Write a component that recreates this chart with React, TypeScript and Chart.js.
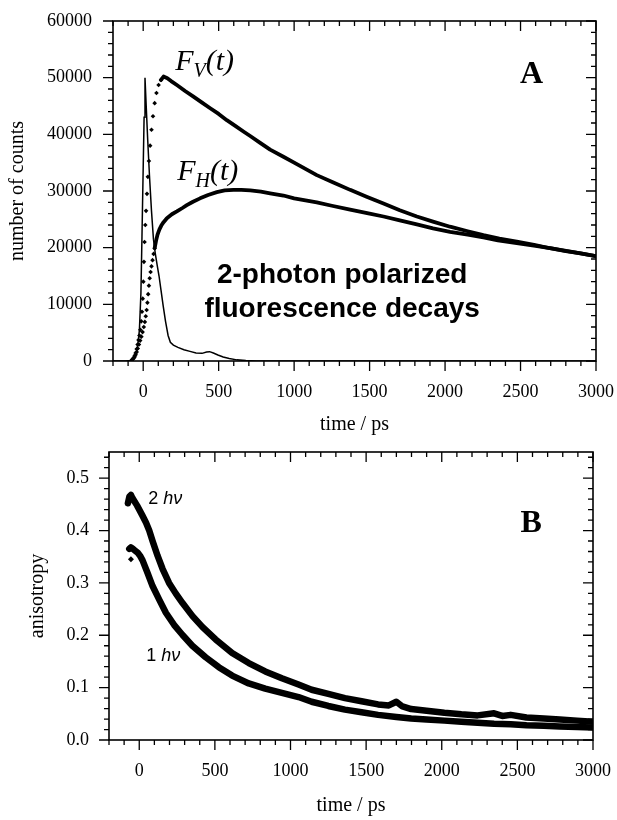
import React, { useEffect, useRef } from "react";
import { Chart, registerables } from "chart.js";

Chart.register(...registerables);

// ---------------- Panel A: polarized fluorescence decays ----------------
const timeTicks = [0, 500, 1000, 1500, 2000, 2500, 3000];
const countTicks = [0, 10000, 20000, 30000, 40000, 50000, 60000];

// instrument response (thin solid line)
const irTime = [-200, -120, -80, -65, -55, -45, -35, -25, -15, -8, 0, 6, 12, 20, 30, 42, 55, 68, 80, 92, 105, 118, 132, 148, 165, 180, 200, 230, 270, 310, 350, 390, 420, 440, 465, 495, 530, 570, 620, 680, 750, 1000, 3000];
const irCounts = [0, 0, 100, 300, 700, 1500, 3000, 5500, 12000, 22000, 34000, 43000, 50000, 45000, 39000, 32500, 26500, 21500, 19000, 17000, 15000, 12500, 9800, 7000, 4500, 3300, 2800, 2400, 2000, 1700, 1400, 1350, 1600, 1650, 1400, 1050, 700, 450, 200, 80, 0, 0, 0];

// F_V(t): rising edge (separate dots) and decay (dense band)
const fvRiseTime = [-75, -65, -57, -50, -43, -37, -31, -25, -19, -13, -8, -3, 1, 5, 9, 14, 19, 25, 31, 38, 46, 55, 65, 76, 88, 102, 118];
const fvRiseCounts = [200, 500, 900, 1400, 2100, 2900, 3700, 4500, 5500, 7000, 8700, 11000, 14000, 17500, 21000, 24000, 26500, 29500, 32500, 35300, 38000, 40800, 43200, 45500, 47300, 48700, 49600];
const fvTime = [118, 135, 160, 185, 223, 280, 333, 390, 444, 500, 554, 610, 664, 709, 775, 841, 929, 1000, 1075, 1150, 1260, 1371, 1480, 1592, 1700, 1813, 1920, 2033, 2150, 2254, 2360, 2475, 2590, 2695, 2850, 3000];
const fvCounts = [49600, 50200, 49900, 49400, 48700, 47600, 46650, 45600, 44600, 43600, 42500, 41500, 40500, 39700, 38500, 37300, 36050, 35000, 33900, 32800, 31500, 30200, 29000, 27800, 26600, 25500, 24600, 23700, 22900, 22200, 21600, 21050, 20500, 19900, 19200, 18500];

// F_H(t)
const fhRiseTime = [-75, -65, -57, -50, -43, -36, -28, -20, -12, -4, 4, 11, 17, 23, 28, 33, 38, 43, 49, 55, 62, 69, 76];
const fhRiseCounts = [150, 400, 700, 1100, 1600, 2200, 2900, 3600, 4300, 5100, 6000, 6900, 7900, 9000, 10300, 11800, 13300, 14600, 15700, 16700, 17800, 18900, 19900];
const fhTime = [76, 85, 95, 107, 120, 135, 157, 190, 223, 260, 289, 330, 377, 430, 488, 540, 598, 650, 709, 780, 841, 929, 1000, 1150, 1250, 1371, 1500, 1592, 1700, 1813, 1920, 2033, 2150, 2254, 2350, 2475, 2600, 2695, 2800, 2900, 3000];
const fhCounts = [19900, 21200, 22300, 23200, 23900, 24500, 25200, 25900, 26400, 27000, 27500, 28100, 28700, 29300, 29800, 30100, 30200, 30200, 30100, 29900, 29600, 29200, 28700, 28000, 27400, 26700, 26000, 25500, 24800, 24100, 23400, 22800, 22300, 21800, 21300, 20800, 20300, 19900, 19400, 19000, 18500];

// ---------------- Panel B: anisotropy ----------------
const anisoTicks = [0, 0.1, 0.2, 0.3, 0.4, 0.5];

const r2Time = [-75, -65, -55, -45, -30, -15, 0, 22, 45, 66, 88, 121, 154, 197, 241, 285, 351, 417, 505, 614, 724, 833, 943, 1053, 1140, 1250, 1360, 1470, 1579, 1650, 1700, 1740, 1798, 1900, 2017, 2130, 2237, 2346, 2400, 2456, 2560, 2675, 2780, 2895, 3000];
const r2Values = [0.452, 0.465, 0.468, 0.462, 0.455, 0.448, 0.44, 0.428, 0.415, 0.4, 0.38, 0.352, 0.327, 0.3, 0.28, 0.262, 0.237, 0.216, 0.192, 0.166, 0.147, 0.131, 0.118, 0.106, 0.096, 0.088, 0.08, 0.074, 0.068, 0.066, 0.073, 0.064, 0.059, 0.056, 0.052, 0.049, 0.047, 0.051, 0.046, 0.048, 0.043, 0.041, 0.039, 0.037, 0.035];

const r1Time = [-66, -55, -45, -30, -11, 5, 22, 55, 88, 132, 176, 230, 285, 351, 439, 526, 614, 724, 833, 943, 1053, 1140, 1250, 1360, 1470, 1579, 1700, 1798, 1900, 2017, 2130, 2237, 2346, 2456, 2560, 2675, 2780, 2895, 3000];
const r1Values = [0.365, 0.368, 0.366, 0.362, 0.358, 0.352, 0.343, 0.319, 0.294, 0.268, 0.243, 0.22, 0.201, 0.18, 0.158, 0.139, 0.123, 0.108, 0.098, 0.09, 0.082, 0.073, 0.065, 0.058, 0.053, 0.048, 0.044, 0.041, 0.039, 0.037, 0.035, 0.033, 0.031, 0.03, 0.028, 0.027, 0.026, 0.025, 0.024];
const r1StrayTime = [-55];
const r1StrayValues = [0.345];

// ---------------- helpers ----------------
const zip = (xs: number[], ys: number[]) => xs.map((x, i) => ({ x, y: ys[i] }));

const SERIF = '"Liberation Serif", "Times New Roman", serif';
const SANS = '"Liberation Sans", Arial, sans-serif';

const frameTicks = {
  id: "frameTicks",
  afterDatasetsDraw(chart: any, _args: any, opts: any) {
    const { ctx, chartArea } = chart;
    const { left, right, top, bottom } = chartArea;
    const xs = chart.scales.x;
    const ys = chart.scales.y;
    const MAJ = 10;
    const MIN = 5;
    ctx.save();
    ctx.strokeStyle = "#000";
    ctx.lineWidth = 1.3;
    ctx.beginPath();
    const isMajor = (v: number, majors: number[]) => majors.some((m) => Math.abs(m - v) < 1e-6 * (1 + Math.abs(m)));
    const nx = Math.round((opts.xMax - opts.xMin) / opts.xStep);
    for (let i = 0; i <= nx; i++) {
      const v = opts.xMin + i * opts.xStep;
      const px = xs.getPixelForValue(v);
      const len = isMajor(v, opts.xMajor) ? MAJ : MIN;
      ctx.moveTo(px, bottom);
      ctx.lineTo(px, bottom + len);
      ctx.moveTo(px, top);
      ctx.lineTo(px, top + len);
    }
    const ny = Math.floor((opts.yMax - opts.yMin) / opts.yStep + 1e-6);
    for (let i = 0; i <= ny; i++) {
      const v = opts.yMin + i * opts.yStep;
      const py = ys.getPixelForValue(v);
      const len = isMajor(v, opts.yMajor) ? MAJ : MIN;
      ctx.moveTo(left, py);
      ctx.lineTo(left - len, py);
      ctx.moveTo(right, py);
      ctx.lineTo(right - len, py);
    }
    ctx.stroke();
    ctx.lineWidth = 1.6;
    ctx.strokeRect(left, top, right - left, bottom - top);
    ctx.restore();
  },
};

type Part = { text: string; font: string; dy?: number };
type Note = { x: number; y: number; align?: "left" | "center"; parts: Part[] };

const notesPlugin = {
  id: "notes",
  afterDatasetsDraw(chart: any, _args: any, opts: any) {
    const { ctx } = chart;
    const xs = chart.scales.x;
    const ys = chart.scales.y;
    ctx.save();
    ctx.fillStyle = "#000";
    ctx.textBaseline = "alphabetic";
    ctx.textAlign = "left";
    for (const n of opts.notes as Note[]) {
      let px = xs.getPixelForValue(n.x);
      const py = ys.getPixelForValue(n.y);
      let total = 0;
      for (const p of n.parts) {
        ctx.font = p.font;
        total += ctx.measureText(p.text).width;
      }
      if (n.align === "center") px -= total / 2;
      for (const p of n.parts) {
        ctx.font = p.font;
        ctx.fillText(p.text, px, py + (p.dy || 0));
        px += ctx.measureText(p.text).width;
      }
    }
    ctx.restore();
  },
};

const notesA: Note[] = [
  { x: 212, y: 51360, parts: [
    { text: "F", font: `italic 30px ${SERIF}` },
    { text: "V", font: `italic 20px ${SERIF}`, dy: 7 },
    { text: "(t)", font: `italic 30px ${SERIF}` },
  ] },
  { x: 225, y: 31950, parts: [
    { text: "F", font: `italic 30px ${SERIF}` },
    { text: "H", font: `italic 20px ${SERIF}`, dy: 7 },
    { text: "(t)", font: `italic 30px ${SERIF}` },
  ] },
  { x: 2497, y: 49070, parts: [{ text: "A", font: `bold 32px ${SERIF}` }] },
  { x: 1318, y: 13680, align: "center", parts: [{ text: "2-photon polarized", font: `bold 28px ${SANS}` }] },
  { x: 1318, y: 7820, align: "center", parts: [{ text: "fluorescence decays", font: `bold 28px ${SANS}` }] },
];

const notesB: Note[] = [
  { x: 59, y: 0.45, parts: [
    { text: "2 ", font: `18px ${SANS}` },
    { text: "h\u03bd", font: `italic 18px ${SANS}` },
  ] },
  { x: 46, y: 0.15, parts: [
    { text: "1 ", font: `18px ${SANS}` },
    { text: "h\u03bd", font: `italic 18px ${SANS}` },
  ] },
  { x: 2520, y: 0.398, parts: [{ text: "B", font: `bold 32px ${SERIF}` }] },
];

const tickFont = { family: SERIF, size: 18 };
const titleFont = { family: SERIF, size: 20 };

function xScale(height: number, titlePadBottom: number) {
  return {
    type: "linear" as const,
    min: -200,
    max: 3000,
    afterBuildTicks: (s: any) => {
      s.ticks = timeTicks.map((v) => ({ value: v }));
    },
    afterFit: (s: any) => {
      s.height = height;
      s.paddingLeft = 0;
      s.paddingRight = 0;
    },
    grid: { display: false, drawTicks: false },
    border: { display: false },
    ticks: {
      color: "#000",
      padding: 20,
      font: tickFont,
      maxRotation: 0,
      autoSkip: false,
      callback: (v: any) => String(v),
    },
    title: {
      display: true,
      text: "time / ps",
      color: "#000",
      font: titleFont,
      padding: { top: 0, bottom: titlePadBottom },
    },
  };
}

function makeChartA(canvas: HTMLCanvasElement) {
  return new Chart(canvas, {
    type: "scatter",
    data: {
      datasets: [
        { label: "IRF", data: zip(irTime, irCounts), showLine: true, borderColor: "#000", borderWidth: 1.5, pointRadius: 0 },
        { label: "FV rise", data: zip(fvRiseTime, fvRiseCounts), showLine: false, pointStyle: "rectRot", pointRadius: 2.3, backgroundColor: "#000", borderColor: "#000", borderWidth: 0 },
        { label: "FV", data: zip(fvTime, fvCounts), showLine: true, borderColor: "#000", borderWidth: 3.8, pointRadius: 0, borderJoinStyle: "round", borderCapStyle: "round" },
        { label: "FH rise", data: zip(fhRiseTime, fhRiseCounts), showLine: false, pointStyle: "rectRot", pointRadius: 2.3, backgroundColor: "#000", borderColor: "#000", borderWidth: 0 },
        { label: "FH", data: zip(fhTime, fhCounts), showLine: true, borderColor: "#000", borderWidth: 3.8, pointRadius: 0, borderJoinStyle: "round", borderCapStyle: "round" },
      ],
    },
    options: {
      animation: false,
      responsive: false,
      devicePixelRatio: 1,
      events: [],
      layout: { padding: { top: 21, right: 21, left: 0, bottom: 0 } },
      plugins: {
        legend: { display: false },
        tooltip: { enabled: false },
        frameTicks: { xMin: -200, xMax: 3000, xStep: 100, xMajor: timeTicks, yMin: 0, yMax: 60000, yStep: 2000, yMajor: countTicks },
        notes: { notes: notesA },
      } as any,
      scales: {
        x: xScale(84, 8) as any,
        y: {
          type: "linear",
          min: 0,
          max: 60000,
          afterBuildTicks: (s: any) => {
            s.ticks = countTicks.map((v) => ({ value: v }));
          },
          afterFit: (s: any) => {
            s.width = 113;
            s.paddingTop = 0;
            s.paddingBottom = 0;
          },
          grid: { display: false, drawTicks: false },
          border: { display: false },
          ticks: { color: "#000", padding: 21, font: tickFont, autoSkip: false, callback: (v: any) => String(v) },
          title: { display: true, text: "number of counts", color: "#000", font: titleFont, padding: { top: 6, bottom: 0 } },
        } as any,
      },
    },
    plugins: [frameTicks, notesPlugin],
  });
}

function makeChartB(canvas: HTMLCanvasElement) {
  return new Chart(canvas, {
    type: "scatter",
    data: {
      datasets: [
        { label: "2 hv", data: zip(r2Time, r2Values), showLine: true, borderColor: "#000", borderWidth: 6.5, pointRadius: 0, borderJoinStyle: "round", borderCapStyle: "round" },
        { label: "1 hv", data: zip(r1Time, r1Values), showLine: true, borderColor: "#000", borderWidth: 6.5, pointRadius: 0, borderJoinStyle: "round", borderCapStyle: "round" },
        { label: "1 hv stray", data: zip(r1StrayTime, r1StrayValues), showLine: false, pointStyle: "rectRot", pointRadius: 3, backgroundColor: "#000", borderWidth: 0 },
      ],
    },
    options: {
      animation: false,
      responsive: false,
      devicePixelRatio: 1,
      events: [],
      layout: { padding: { top: 7, right: 24, left: 0, bottom: 0 } },
      plugins: {
        legend: { display: false },
        tooltip: { enabled: false },
        frameTicks: { xMin: -200, xMax: 3000, xStep: 100, xMajor: timeTicks, yMin: 0, yMax: 0.55, yStep: 0.02, yMajor: anisoTicks },
        notes: { notes: notesB },
      } as any,
      scales: {
        x: xScale(80, 2) as any,
        y: {
          type: "linear",
          min: 0,
          max: 0.55,
          afterBuildTicks: (s: any) => {
            s.ticks = anisoTicks.map((v) => ({ value: v }));
          },
          afterFit: (s: any) => {
            s.width = 109;
            s.paddingTop = 0;
            s.paddingBottom = 0;
          },
          grid: { display: false, drawTicks: false },
          border: { display: false },
          ticks: { color: "#000", padding: 20, font: tickFont, autoSkip: false, callback: (v: any) => Number(v).toFixed(1) },
          title: { display: true, text: "anisotropy", color: "#000", font: titleFont, padding: { top: 26, bottom: 0 } },
        } as any,
      },
    },
    plugins: [frameTicks, notesPlugin],
  });
}

export default function App() {
  const refA = useRef<HTMLCanvasElement>(null);
  const refB = useRef<HTMLCanvasElement>(null);
  useEffect(() => {
    const a = makeChartA(refA.current as HTMLCanvasElement);
    const b = makeChartB(refB.current as HTMLCanvasElement);
    return () => {
      a.destroy();
      b.destroy();
    };
  }, []);
  return (
    <div style={{ position: "absolute", left: 0, top: 0, width: 617, height: 820, background: "#fff", overflow: "hidden" }}>
      <canvas ref={refA} width={617} height={445} style={{ position: "absolute", left: 0, top: 0, width: 617, height: 445 }} />
      <canvas ref={refB} width={617} height={375} style={{ position: "absolute", left: 0, top: 445, width: 617, height: 375 }} />
    </div>
  );
}
